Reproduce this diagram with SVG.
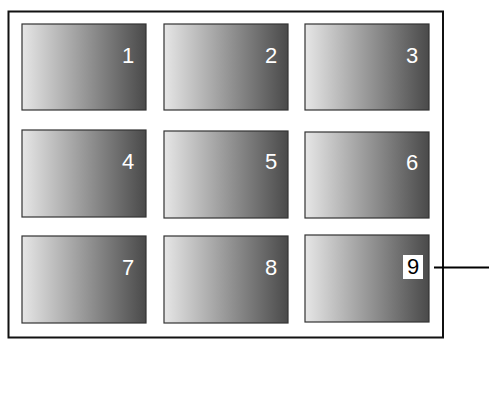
<svg xmlns="http://www.w3.org/2000/svg" width="489" height="393" viewBox="0 0 489 393">
<defs>
<linearGradient id="g" x1="0" y1="0" x2="1" y2="0">
<stop offset="0" stop-color="#e6e6e6"/>
<stop offset="1" stop-color="#4a4a4a"/>
</linearGradient>
<style>
.t{fill:url(#g);stroke:#333;stroke-width:1.2}
.n{font-family:"Liberation Sans",Arial,sans-serif;font-size:22px;fill:#fff;text-anchor:middle}
.k{font-family:"Liberation Sans",Arial,sans-serif;font-size:22px;fill:#000;text-anchor:middle}
</style>
</defs>
<rect width="489" height="393" fill="#fff"/>
<rect id="frame" x="8.5" y="11.5" width="434.5" height="326" fill="none" stroke="#111" stroke-width="2"/>
<g id="n1"><rect class="t" x="22" y="24" width="124" height="86"/><text class="n" x="128" y="63">1</text></g>
<g id="n2"><rect class="t" x="164" y="24" width="124" height="86"/><text class="n" x="271" y="63">2</text></g>
<g id="n3"><rect class="t" x="305" y="24" width="124" height="86"/><text class="n" x="412" y="63">3</text></g>
<g id="n4"><rect class="t" x="22" y="130" width="124" height="87"/><text class="n" x="128" y="169">4</text></g>
<g id="n5"><rect class="t" x="164" y="131" width="124" height="87"/><text class="n" x="271" y="169">5</text></g>
<g id="n6"><rect class="t" x="305" y="132" width="124" height="86"/><text class="n" x="412" y="170">6</text></g>
<g id="n7"><rect class="t" x="22" y="236" width="124" height="87"/><text class="n" x="128" y="275">7</text></g>
<g id="n8"><rect class="t" x="164" y="236" width="124" height="87"/><text class="n" x="271" y="275">8</text></g>
<g id="n9"><rect class="t" x="305" y="235" width="124" height="87"/><rect x="403" y="255" width="20" height="24" fill="#fff"/><text class="k" x="413" y="274">9</text></g>
<g id="connectors"><line x1="434" y1="267.5" x2="489" y2="267.5" stroke="#000" stroke-width="2"/></g>
</svg>
